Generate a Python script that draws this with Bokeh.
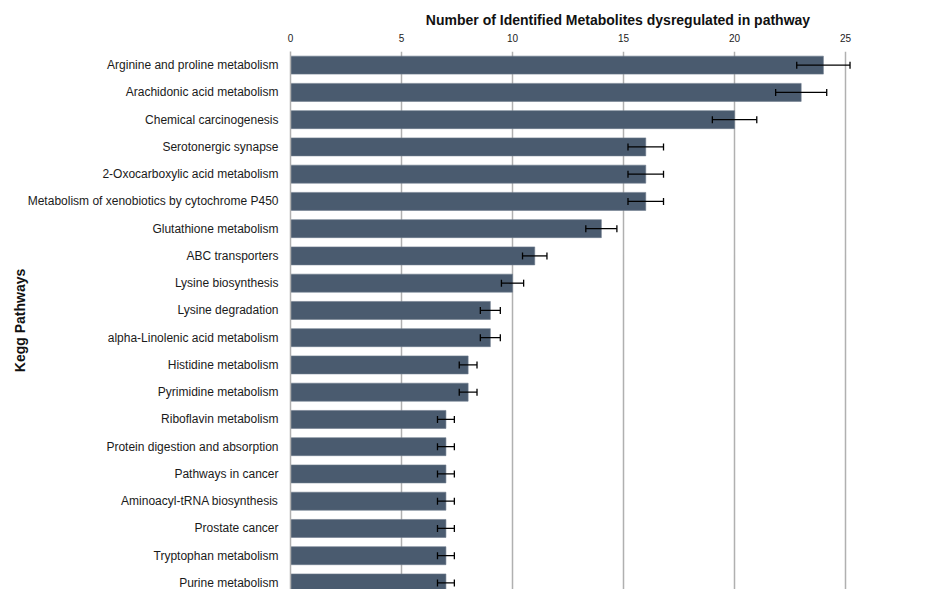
from bokeh.plotting import figure
from bokeh.models import Range1d, FixedTicker, ColumnDataSource, Whisker, TeeHead
from bokeh.embed import file_html
from bokeh.resources import INLINE

pathways = [
    "Arginine and proline metabolism",
    "Arachidonic acid metabolism",
    "Chemical carcinogenesis",
    "Serotonergic synapse",
    "2-Oxocarboxylic acid metabolism",
    "Metabolism of xenobiotics by cytochrome P450",
    "Glutathione metabolism",
    "ABC transporters",
    "Lysine biosynthesis",
    "Lysine degradation",
    "alpha-Linolenic acid metabolism",
    "Histidine metabolism",
    "Pyrimidine metabolism",
    "Riboflavin metabolism",
    "Protein digestion and absorption",
    "Pathways in cancer",
    "Aminoacyl-tRNA biosynthesis",
    "Prostate cancer",
    "Tryptophan metabolism",
    "Purine metabolism",
]
counts = [24, 23, 20, 16, 16, 16, 14, 11, 10, 9, 9, 8, 8, 7, 7, 7, 7, 7, 7, 7]
errors = [1.2, 1.15, 1.0, 0.8, 0.8, 0.8, 0.7, 0.55, 0.5, 0.45, 0.45, 0.4, 0.4,
          0.38, 0.38, 0.38, 0.38, 0.38, 0.38, 0.38]
x_ticks = [0, 5, 10, 15, 20, 25]

pos = list(range(len(pathways)))
src = ColumnDataSource(dict(
    y=pos,
    v=counts,
    lo=[c - e for c, e in zip(counts, errors)],
    hi=[c + e for c, e in zip(counts, errors)],
))

FONT = "Liberation Sans"

p = figure(width=945, height=589, output_backend="svg", toolbar_location=None,
           x_axis_location="above",
           x_range=Range1d(0, 29.5), y_range=Range1d(19.24, -0.5),
           min_border_left=290, min_border_right=0, min_border_top=51,
           min_border_bottom=0)
p.outline_line_color = None
p.background_fill_color = "white"

p.hbar(y="y", right="v", left=0, height=0.66, source=src,
       fill_color="#4a5b6f", line_color="#6d7b8c", line_width=0.6)

w = Whisker(source=src, base="y", lower="lo", upper="hi", dimension="width",
            line_color="black", line_width=1.3, level="overlay",
            lower_head=TeeHead(size=7, line_color="black", line_width=1.3),
            upper_head=TeeHead(size=7, line_color="black", line_width=1.3))
p.add_layout(w)

# x axis (top)
xa = p.xaxis[0]
xa.ticker = FixedTicker(ticks=x_ticks)
xa.axis_line_color = None
xa.major_tick_line_color = None
xa.minor_tick_line_color = None
xa.major_label_standoff = 4
xa.major_label_text_font = FONT
xa.major_label_text_font_size = "10px"
xa.major_label_text_color = "#222222"
xa.axis_label = "Number of Identified Metabolites dysregulated in pathway"
xa.axis_label_text_font = FONT
xa.axis_label_text_font_style = "bold"
xa.axis_label_text_font_size = "14px"
xa.axis_label_text_color = "#111111"
xa.axis_label_standoff = 3

# y axis
ya = p.yaxis[0]
ya.ticker = FixedTicker(ticks=pos)
ya.major_label_overrides = {i: name for i, name in zip(pos, pathways)}
ya.axis_line_color = "#b0b0b0"
ya.axis_line_width = 1.5
ya.major_tick_line_color = None
ya.minor_tick_line_color = None
ya.major_label_standoff = 6
ya.major_label_text_font = FONT
ya.major_label_text_font_size = "12px"
ya.major_label_text_color = "#1a1a1a"
ya.axis_label = "Kegg Pathways"
ya.axis_label_text_font = FONT
ya.axis_label_text_font_style = "bold"
ya.axis_label_text_font_size = "14px"
ya.axis_label_text_color = "#111111"
ya.axis_label_standoff = -3

p.xgrid.grid_line_color = "#b0b0b0"
p.xgrid.grid_line_width = 1.5
p.ygrid.grid_line_color = None

open("out.html", "w").write(file_html(p, INLINE))
